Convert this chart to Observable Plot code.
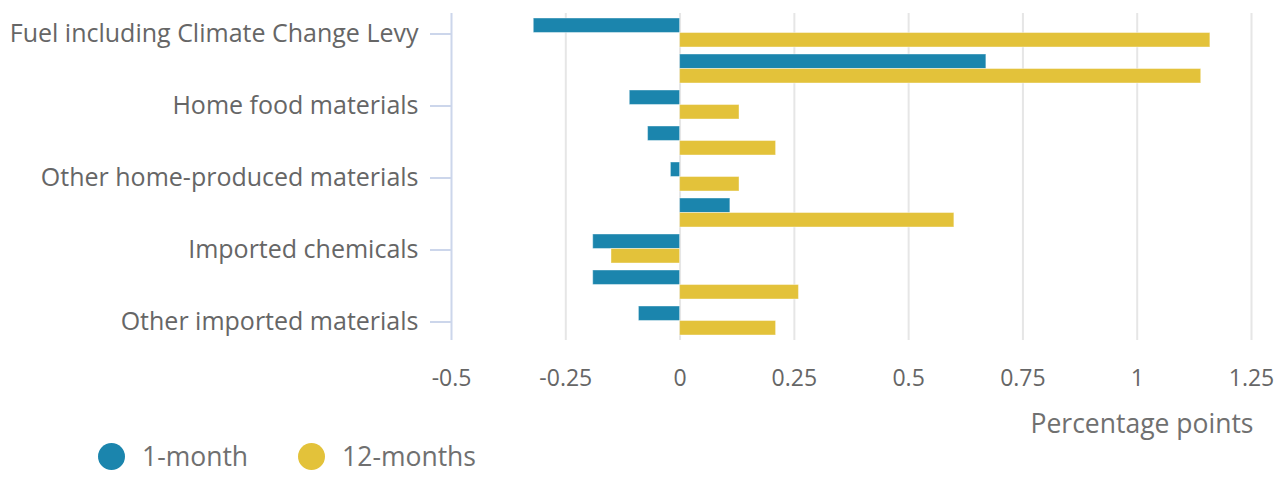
<!DOCTYPE html>
<html>
<head>
<meta charset="utf-8">
<script src="https://cdn.jsdelivr.net/npm/d3@7"></script>
<script src="https://cdn.jsdelivr.net/npm/@observablehq/plot@0.6"></script>
<style>
  html, body { margin: 0; padding: 0; background: #fff; }
  body { font-family: "Open Sans", sans-serif; width: 1278px; overflow: hidden; }
  #legend { display: flex; align-items: center; height: 32px; margin-top: 0px; padding-left: 98px; font-size: 26.5px; color: #707070; }
  .item { display: flex; align-items: center; margin-right: 50px; }
  .dot { width: 27px; height: 27px; border-radius: 50%; margin-right: 17px; }
</style>
</head>
<body>
<div id="chart"></div>
<div id="legend"></div>
<script>
const categories = [
  "Fuel including Climate Change Levy",
  "Crude oil",
  "Home food materials",
  "Imported food materials",
  "Other home-produced materials",
  "Imported metals",
  "Imported chemicals",
  "Imported parts and equipment",
  "Other imported materials"
];
const labeledCategories = [
  "Fuel including Climate Change Levy",
  "Home food materials",
  "Other home-produced materials",
  "Imported chemicals",
  "Other imported materials"
];
const series = ["1-month", "12-months"];
const oneMonth = [-0.32, 0.67, -0.11, -0.07, -0.02, 0.11, -0.19, -0.19, -0.09];
const twelveMonths = [1.16, 1.14, 0.13, 0.21, 0.13, 0.60, -0.15, 0.26, 0.21];
const colors = ["#1b85ad", "#e3c23a"];
const xTicks = [-0.5, -0.25, 0, 0.25, 0.5, 0.75, 1, 1.25];

const data1 = categories.map((c, i) => ({category: c, value: oneMonth[i]}));
const data2 = categories.map((c, i) => ({category: c, value: twelveMonths[i]}));

const width = 1278, height = 440;
const marginTop = 13, marginBottom = 100, marginLeft = 451, marginRight = 27;
const paddingInner = 0.2, paddingOuter = 0.1;
const step = (height - marginTop - marginBottom) / (categories.length - paddingInner + 2 * paddingOuter);
const half = step * (1 - paddingInner) / 2;

const chart = Plot.plot({
  width, height, marginTop, marginBottom, marginLeft, marginRight,
  style: {fontFamily: "Open Sans", fontSize: "22px", color: "#666", background: "#fff"},
  x: {domain: [-0.5, 1.25], axis: null},
  y: {domain: categories, paddingInner, paddingOuter, axis: null},
  marks: [
    Plot.ruleX(xTicks.filter(d => d !== -0.5), {stroke: "#e6e6e6", strokeWidth: 2}),
    Plot.barX(data1, {y: "category", x1: 0, x2: "value", fill: colors[0], stroke: "#ffffff", strokeOpacity: 0.4, strokeWidth: 1, insetBottom: half}),
    Plot.barX(data2, {y: "category", x1: 0, x2: "value", fill: colors[1], stroke: "#ffffff", strokeOpacity: 0.4, strokeWidth: 1, insetTop: half}),
    Plot.ruleX([-0.5], {stroke: "#ccd6eb", strokeWidth: 2}),
    Plot.axisY(labeledCategories, {anchor: "left", tickSize: 21, tickPadding: 12, stroke: "#ccd6eb", strokeWidth: 2, fill: "#666", fontSize: 25, dy: 1, label: null}),
    Plot.axisX(xTicks, {anchor: "bottom", tickSize: 0, tickPadding: 29, fill: "#666", fontSize: 23, tickFormat: d => String(d), label: null}),
    Plot.text(["Percentage points"], {frameAnchor: "bottom-right", dy: 92, dx: 2, textAnchor: "end", fill: "#707070", fontSize: 26.5})
  ]
});
document.getElementById("chart").appendChild(chart);

const legend = document.getElementById("legend");
series.forEach((s, i) => {
  const item = document.createElement("div");
  item.className = "item";
  item.innerHTML = `<span class="dot" style="background:${colors[i]}"></span><span>${s}</span>`;
  legend.appendChild(item);
});
</script>
</body>
</html>
